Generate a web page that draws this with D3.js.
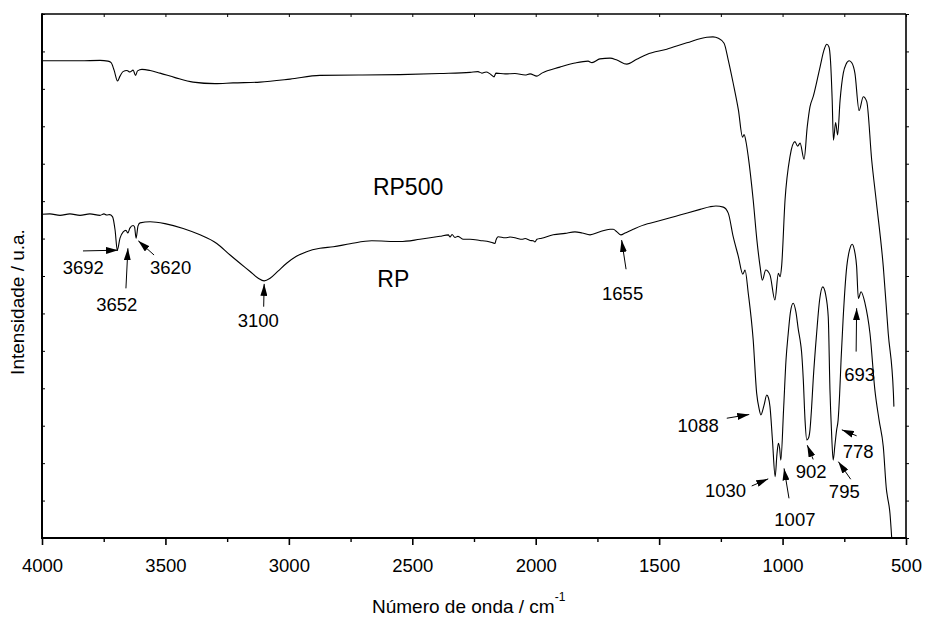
<!DOCTYPE html>
<html>
<head>
<meta charset="utf-8">
<script src="https://cdn.jsdelivr.net/npm/d3@7"></script>
<style>
  body { margin: 0; background: #fff; }
  svg { display: block; }
  text { font-family: Arial, "Liberation Sans", sans-serif; fill: #000; }
</style>
</head>
<body>
<svg id="chart" width="925" height="617"></svg>
<script>
// FTIR spectra: wavenumber (cm-1) and intensity (arbitrary units)
const wnRP500 = [4000,3846,3765,3733,3720,3708,3694,3684,3672,3656,3644,3631,3621,3613,3595,3562,3522,3461,3388,3299,
  3226,3117,2995,2874,2712,2550,2388,2266,2234,2218,2201,2185,2169,2161,2124,2084,2043,2023,1995,1975,
  1902,1841,1788,1772,1740,1699,1671,1631,1591,1550,1469,1388,1307,1282,1260,1237,1220,1200,1179,1162,
  1156,1148,1139,1119,1104,1091,1082,1068,1051,1031,1017,1010,1004,990,970,950,939,929,913,900,
  889,876,848,832,821,812,806,799,794,785,777,767,754,743,730,719,707,690,673,659,
  639,621,592,572,551,549];
const intRP500 = [12.75,12.75,12.76,12.74,12.70,12.50,12.21,12.34,12.46,12.49,12.45,12.50,12.36,12.48,12.52,12.49,12.42,12.30,12.18,12.14,
  12.16,12.18,12.26,12.36,12.37,12.38,12.41,12.44,12.46,12.42,12.45,12.40,12.32,12.42,12.40,12.41,12.37,12.40,12.34,12.42,
  12.58,12.69,12.74,12.70,12.80,12.82,12.77,12.66,12.79,12.92,13.06,13.23,13.38,13.39,13.35,13.22,12.77,12.15,11.44,10.71,
  10.78,10.58,10.19,9.03,7.96,7.25,6.89,7.16,7.03,6.36,7.07,6.98,7.25,9.03,10.19,10.59,10.47,10.55,10.12,10.99,
  11.52,11.79,12.59,13.04,13.19,13.12,12.77,11.70,10.63,11.10,10.77,11.70,12.42,12.66,12.75,12.69,12.42,11.42,11.79,11.66,
  10.10,9.03,7.25,5.47,3.87,3.51];

const wnRP = [4000,3968,3927,3887,3846,3806,3765,3749,3738,3725,3714,3704,3695,3684,3671,3660,3652,3644,3631,3625,
  3619,3611,3603,3562,3502,3428,3360,3292,3238,3198,3157,3124,3100,3076,3044,3009,2971,2928,2874,2820,
  2752,2664,2550,2469,2388,2354,2347,2339,2327,2315,2293,2266,2226,2185,2165,2161,2152,2124,2104,2077,
  2056,2043,2023,2010,2003,1995,1976,1929,1881,1841,1812,1780,1740,1699,1686,1671,1655,1638,1605,1550,
  1537,1416,1334,1294,1270,1240,1220,1200,1179,1161,1152,1139,1119,1105,1095,1088,1075,1064,1057,1051,
  1041,1030,1023,1017,1012,1007,996,986,977,968,957,946,936,929,923,916,909,902,895,889,
  883,876,862,850,837,826,815,808,802,795,788,781,775,769,763,755,740,729,718,709,
  700,693,682,666,646,626,609,592,579,575,565,558];
const intRP = [8.65,8.66,8.62,8.66,8.62,8.66,8.62,8.66,8.63,8.64,8.58,8.23,7.69,8.01,8.18,8.22,8.15,8.28,8.35,8.31,
  8.01,8.34,8.42,8.45,8.40,8.27,8.10,7.87,7.56,7.34,7.12,6.94,6.87,6.94,7.13,7.34,7.52,7.65,7.74,7.78,
  7.86,7.94,7.92,7.98,8.06,8.10,8.04,8.11,8.03,8.06,7.98,7.98,7.95,7.91,7.87,7.96,8.05,8.02,8.04,8.01,
  7.98,8.00,7.95,7.94,7.91,7.98,8.01,8.10,8.14,8.18,8.15,8.10,8.18,8.25,8.25,8.18,8.10,8.15,8.25,8.39,
  8.41,8.63,8.78,8.85,8.87,8.84,8.68,8.05,7.52,7.05,7.16,6.54,5.29,3.87,3.45,3.29,3.55,3.82,3.74,3.51,
  2.62,1.64,2.22,2.53,2.40,2.08,3.42,4.76,5.47,6.04,6.27,6.04,5.56,5.29,4.97,4.22,3.15,2.62,2.67,2.89,
  3.42,4.22,5.47,6.36,6.71,6.52,5.91,3.95,2.89,2.08,2.48,2.89,3.15,3.82,4.76,5.82,7.25,7.69,7.85,7.69,
  7.25,6.40,6.58,6.27,5.47,3.95,3.15,2.44,1.28,1.10,0.66,0.01];

// Axis ticks
const xMajorTicks = [4000, 3500, 3000, 2500, 2000, 1500, 1000, 500];
const xMinorTicks = [3750, 3250, 2750, 2250, 1750, 1250, 750];
const yTicks = [0,1,2,3,4,5,6,7,8,9,10,11,12,13,14];

// Series names and where they are written
const seriesNames = ["RP500", "RP"];
const seriesLabelWn = [2517, 2577];
const seriesLabelInt = [9.38, 6.94];

// Band assignments: label position, arrow tail and arrow tip
const peakLabels   = ["3692","3652","3620","3100","1655","1088","1030","1007","902","795","778","693"];
const labelWn      = [3833, 3697, 3479, 3124, 1648, 1342, 1231, 950, 884, 750, 694, 688];
const labelInt     = [7.23, 6.25, 7.23, 5.82, 6.55, 3.02, 1.28, 0.50, 1.77, 1.26, 2.32, 4.36];
const arrowFromWn  = [3834, 3660, 3546, 3102, 1634, 1226, 1125, 974, 876, 724, 700, 702];
const arrowFromInt = [7.67, 6.67, 7.56, 6.18, 7.18, 3.20, 1.39, 1.06, 2.10, 1.57, 2.73, 4.98];
const arrowToWn    = [3692, 3652, 3610, 3100, 1652, 1135, 1058, 994, 900, 774, 760, 700];
const arrowToInt   = [7.69, 7.74, 7.94, 6.79, 7.96, 3.30, 1.58, 1.86, 2.48, 2.04, 2.89, 6.14];

const W = 925, H = 617;
const margin = { left: 42, right: 19, top: 14, bottom: 79 };
const svg = d3.select("#chart");

const x = d3.scaleLinear().domain([4000, 500]).range([margin.left, W - margin.right]);
const y = d3.scaleLinear().domain([0, 14]).range([H - margin.bottom, margin.top]);

const x0 = x.range()[0], x1 = x.range()[1], yB = y.range()[0], yT = y.range()[1];

// Arrowhead marker
svg.append("defs").append("marker")
  .attr("id", "head")
  .attr("markerUnits", "userSpaceOnUse")
  .attr("markerWidth", 12).attr("markerHeight", 7)
  .attr("refX", 12).attr("refY", 3.5)
  .attr("orient", "auto")
  .append("path").attr("d", "M0,0 L12,3.5 L0,7 Z").attr("fill", "#000");

// Spectra
const line = d3.line().x(d => x(d[0])).y(d => y(d[1])).curve(d3.curveMonotoneX);
[[wnRP500, intRP500], [wnRP, intRP]].forEach(([w, v]) => {
  svg.append("path")
    .datum(d3.zip(w, v))
    .attr("fill", "none")
    .attr("stroke", "#000")
    .attr("stroke-width", 1.1)
    .attr("stroke-linejoin", "round")
    .attr("d", line);
});

// Bottom axis: major and minor ticks
const gx = svg.append("g").attr("transform", `translate(0,${yB})`)
  .call(d3.axisBottom(x).tickValues(xMajorTicks).tickSize(7).tickPadding(13.5).tickFormat(d3.format("d")));
gx.select(".domain").remove();
gx.selectAll("line").attr("stroke-width", 1.6);
gx.selectAll("text").attr("font-size", "18.5px").attr("font-family", "Arial, 'Liberation Sans', sans-serif");

const gxm = svg.append("g").attr("transform", `translate(0,${yB})`)
  .call(d3.axisBottom(x).tickValues(xMinorTicks).tickSize(4).tickFormat(""));
gxm.select(".domain").remove();
gxm.selectAll("line").attr("stroke-width", 1.4);

// Top axis: small inward ticks
const gt = svg.append("g").attr("transform", `translate(0,${yT})`)
  .call(d3.axisTop(x).tickValues(xMajorTicks.concat(xMinorTicks)).tickSize(-3).tickFormat(""));
gt.select(".domain").remove();

// Left and right axes: unlabelled small ticks
const gl = svg.append("g").attr("transform", `translate(${x0},0)`)
  .call(d3.axisLeft(y).tickValues(yTicks).tickSize(-3).tickFormat(""));
gl.select(".domain").remove();
const gr = svg.append("g").attr("transform", `translate(${x1},0)`)
  .call(d3.axisRight(y).tickValues(yTicks).tickSize(3).tickFormat(""));
gr.select(".domain").remove();

// Frame
svg.append("line").attr("x1", x0).attr("x2", x1).attr("y1", yT).attr("y2", yT).attr("stroke", "#000").attr("stroke-width", 1.5);
svg.append("line").attr("x1", x1).attr("x2", x1).attr("y1", yT).attr("y2", yB).attr("stroke", "#000").attr("stroke-width", 1.6);
svg.append("line").attr("x1", x0).attr("x2", x0).attr("y1", yT - 0.75).attr("y2", yB + 1).attr("stroke", "#000").attr("stroke-width", 2);
svg.append("line").attr("x1", x0 - 1).attr("x2", x1 + 0.8).attr("y1", yB).attr("y2", yB).attr("stroke", "#000").attr("stroke-width", 2);

// Axis titles
const xt = svg.append("text").attr("x", 372).attr("y", 613).attr("font-size", "19px");
xt.append("tspan").text("Número de onda / cm");
xt.append("tspan").attr("font-size", "12px").attr("dy", -12).text("-1");

svg.append("text")
  .attr("transform", `translate(24,302) rotate(-90)`)
  .attr("text-anchor", "middle")
  .attr("font-size", "19px")
  .text("Intensidade / u.a.");

// Series labels
seriesNames.forEach((name, i) => {
  svg.append("text")
    .attr("x", x(seriesLabelWn[i])).attr("y", y(seriesLabelInt[i]))
    .attr("dy", "0.36em")
    .attr("text-anchor", "middle")
    .attr("font-size", "23px")
    .text(name);
});

// Band labels with arrows
peakLabels.forEach((lab, i) => {
  svg.append("line")
    .attr("x1", x(arrowFromWn[i])).attr("y1", y(arrowFromInt[i]))
    .attr("x2", x(arrowToWn[i])).attr("y2", y(arrowToInt[i]))
    .attr("stroke", "#000").attr("stroke-width", 1)
    .attr("marker-end", "url(#head)");
  svg.append("text")
    .attr("x", x(labelWn[i])).attr("y", y(labelInt[i]))
    .attr("dy", "0.36em")
    .attr("text-anchor", "middle")
    .attr("font-size", "18.5px")
    .text(lab);
});
</script>
</body>
</html>
